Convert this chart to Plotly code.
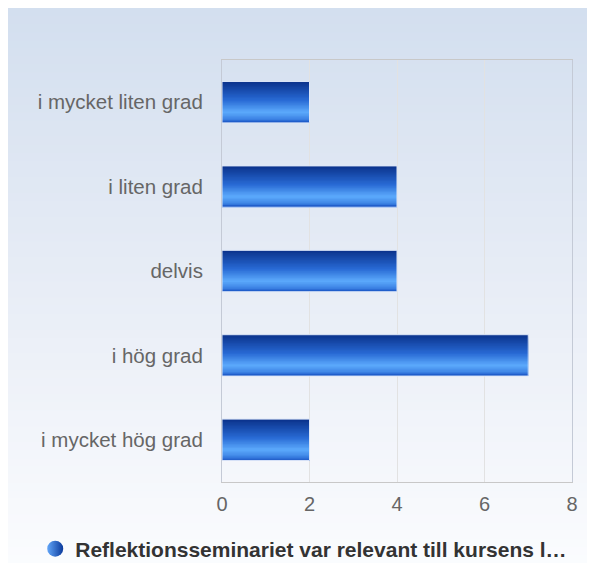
import plotly.graph_objects as go

categories = ["i mycket liten grad", "i liten grad", "delvis", "i hög grad", "i mycket hög grad"]
values = [2, 4, 4, 7, 2]
series_name = "Reflektionsseminariet var relevant till kursens l…"
x_ticks = [0, 2, 4, 6, 8]


def mix(c1, c2, t):
    a = [int(c1[i:i + 2], 16) for i in (1, 3, 5)]
    b = [int(c2[i:i + 2], 16) for i in (1, 3, 5)]
    return "#%02x%02x%02x" % tuple(round(a[k] + (b[k] - a[k]) * t) for k in range(3))


def ramp(stops, t):
    for (p0, c0), (p1, c1) in zip(stops, stops[1:]):
        if p0 <= t <= p1:
            return mix(c0, c1, (t - p0) / (p1 - p0))
    return stops[-1][1]


# vertical shading of the bars (top -> bottom)
bar_stops = [(0.0, "#0a318a"), (0.45, "#286ad4"), (0.74, "#5caafc"), (0.9, "#3f86e6"), (1.0, "#1a56c6")]
bar_h = 0.49
n_strips = 30

fig = go.Figure()
# each strip runs from its own top down to the bar bottom, so no seams show
for i in range(n_strips):
    top = i * bar_h / n_strips
    fig.add_trace(go.Bar(
        x=values, y=categories, orientation="h",
        width=bar_h - top,
        offset=-bar_h / 2 + top,
        marker=dict(color=ramp(bar_stops, (i + 0.5) / n_strips), line=dict(width=0)),
        showlegend=False, hoverinfo="skip",
    ))

# thin light outline around each bar
fig.add_trace(go.Bar(
    x=values, y=categories, orientation="h", width=bar_h,
    marker=dict(color="rgba(0,0,0,0)", line=dict(color="#dce6f8", width=1)),
    showlegend=False,
))

# legend entry with round shaded marker
fig.add_trace(go.Scatter(
    x=[None], y=[None], mode="markers", name=series_name,
    marker=dict(symbol="circle", size=22, color="#62a6f8",
                gradient=dict(type="horizontal", color="#0a3a9c")),
))

# background gradient over the whole figure
W, H = 595, 563
ml, mr, mt, mb = 214, 31, 52, 89
pw, ph = W - ml - mr, H - mt - mb
shapes = []
n_bg = 70
for i in range(n_bg):
    py0 = H * i / n_bg
    py1 = H * (i + 1) / n_bg + 1
    shapes.append(dict(
        type="rect", xref="paper", yref="paper",
        x0=-ml / pw, x1=(W - ml) / pw,
        y0=(H - mb - py1) / ph, y1=(H - mb - py0) / ph,
        layer="below", line=dict(width=0),
        fillcolor=ramp([(0, "#d3dfef"), (0.5, "#e8edf6"), (1, "#fbfcfe")], i / (n_bg - 1)),
    ))

fig.update_layout(
    width=W, height=H,
    margin=dict(l=ml, r=mr, t=mt, b=mb),
    paper_bgcolor="#f4f6fa",
    plot_bgcolor="rgba(0,0,0,0)",
    barmode="overlay",
    shapes=shapes,
    font=dict(family="Liberation Sans, Arial, sans-serif", color="#666666", size=20),
    xaxis=dict(
        range=[0, 8], tickvals=x_ticks, showgrid=True, gridcolor="#e2e2e2", gridwidth=1,
        zeroline=False, showline=True, linecolor="#c8c8c8", mirror=True,
        ticks="outside", ticklen=4, tickcolor="rgba(0,0,0,0)",
        tickfont=dict(size=20, color="#666666"), fixedrange=True,
    ),
    yaxis=dict(
        categoryorder="array", categoryarray=categories, autorange="reversed",
        showgrid=False, zeroline=False, showline=True, linecolor="#c4cad6", mirror=True,
        ticks="outside", ticklen=14, tickcolor="rgba(0,0,0,0)",
        tickfont=dict(size=20.5, color="#666666"),
    ),
    showlegend=True,
    legend=dict(
        orientation="h", xref="container", yref="container",
        x=0.497, xanchor="center", y=0.039, yanchor="middle",
        bgcolor="rgba(0,0,0,0)",
        font=dict(size=21, color="#333333", weight="bold"),
    ),
)

fig.write_html("out.html")
